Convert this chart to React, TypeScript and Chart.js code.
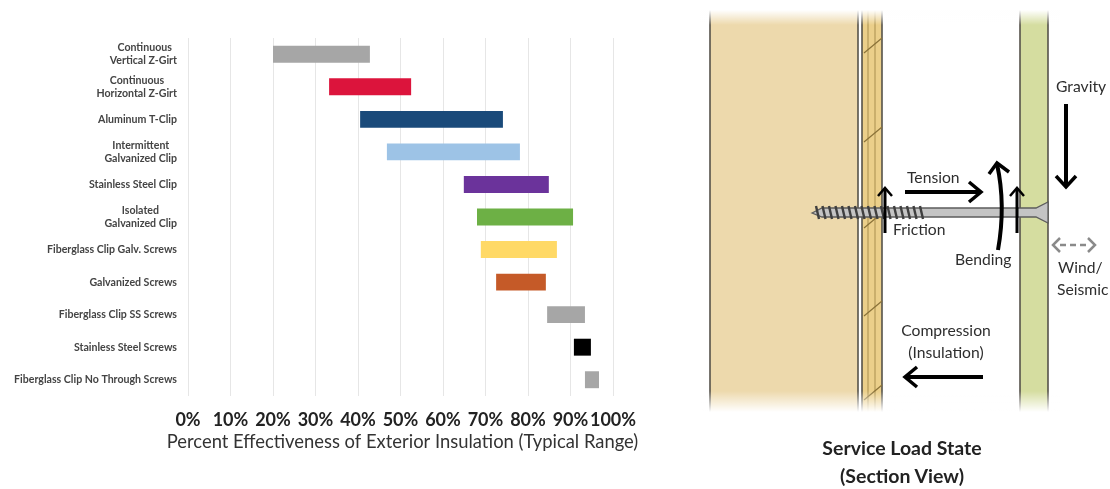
import React, { useEffect, useRef } from "react";
import { Chart, registerables } from "chart.js";

Chart.register(...registerables);

const FONT = "Lato, 'Open Sans', sans-serif";

const categories: string[][] = [
  ["Continuous", "Vertical Z-Girt"],
  ["Continuous", "Horizontal Z-Girt"],
  ["Aluminum T-Clip"],
  ["Intermittent", "Galvanized Clip"],
  ["Stainless Steel Clip"],
  ["Isolated", "Galvanized Clip"],
  ["Fiberglass Clip Galv. Screws"],
  ["Galvanized Screws"],
  ["Fiberglass Clip SS Screws"],
  ["Stainless Steel Screws"],
  ["Fiberglass Clip No Through Screws"],
];
const rangeLow = [20, 33.2, 40.5, 46.8, 64.9, 68, 68.9, 72.5, 84.5, 90.8, 93.4];
const rangeHigh = [42.8, 52.5, 74.1, 78.1, 84.9, 90.6, 86.8, 84.2, 93.4, 94.8, 96.7];
const barColors = [
  "#a6a6a6", "#dc143c", "#1a4a7a", "#9dc3e6", "#6b339b", "#6db045",
  "#ffd966", "#c55a28", "#a6a6a6", "#000000", "#a6a6a6",
];
const axisTitle = "Percent Effectiveness of Exterior Insulation (Typical Range)";

const measure = document.createElement("canvas").getContext("2d")!;

function centeredLines(lines: string[], font: string): string[] {
  if (lines.length < 2) return lines;
  measure.font = font;
  const gap = measure.measureText(lines[1]).width - measure.measureText(lines[0]).width;
  const pad = Math.max(0, Math.round(gap / 2 / measure.measureText("\u00A0").width));
  return [lines[0] + "\u00A0".repeat(pad), lines[1]];
}

const axisTitlePlugin = {
  id: "wideAxisTitle",
  afterDraw(chart: any) {
    const { ctx, scales } = chart;
    const x = scales.x;
    ctx.save();
    ctx.font = `400 18.4px ${FONT}`;
    ctx.fillStyle = "#333";
    ctx.textAlign = "center";
    ctx.textBaseline = "middle";
    ctx.fillText(axisTitle, (x.left + x.right) / 2 + 2, x.top + 46);
    ctx.restore();
  },
};

function Arrow({ d, w = 4, c = "#000" }: { d: string; w?: number; c?: string }) {
  return <path d={d} fill="none" stroke={c} strokeWidth={w} strokeLinejoin="miter" />;
}

function Diagram() {
  const dia = [53, 142, 228, 316, 400];
  const threads: number[] = [];
  for (let x = 816; x < 926; x += 6.5) threads.push(x);
  const t = { fontFamily: FONT, fontSize: 15.7, fill: "#2e2e2e" } as const;
  return (
    <svg
      width={1110}
      height={489}
      style={{ position: "fixed", left: 0, top: 0, filter: "blur(0.5px)", pointerEvents: "none" }}
    >
      <defs>
        <linearGradient id="fadeTop" x1="0" y1="0" x2="0" y2="1">
          <stop offset="0" stopColor="#fff" stopOpacity="1" />
          <stop offset="1" stopColor="#fff" stopOpacity="0" />
        </linearGradient>
        <linearGradient id="fadeBot" x1="0" y1="0" x2="0" y2="1">
          <stop offset="0" stopColor="#fff" stopOpacity="0" />
          <stop offset="1" stopColor="#fff" stopOpacity="1" />
        </linearGradient>
      </defs>
      <rect x={710} y={0} width={148} height={415} fill="#edd9ac" />
      <rect x={862} y={0} width={20} height={415} fill="#ebcf8a" />
      <rect x={1020} y={0} width={28} height={415} fill="#d5dda0" />
      {[710, 858, 862, 868, 875, 882, 1020, 1048].map((x, i) => (
        <line
          key={x}
          x1={x}
          x2={x}
          y1={0}
          y2={415}
          stroke={i === 3 || i === 4 ? "#a98f4e" : "#55524a"}
          strokeWidth={i === 3 || i === 4 ? 1 : 1.6}
        />
      ))}
      {dia.map((y) => (
        <line key={y} x1={864} y1={y} x2={882} y2={y - 15} stroke="#8a7238" strokeWidth={1.2} />
      ))}
      <rect x={700} y={0} width={360} height={10} fill="#fff" />
      <rect x={700} y={10} width={360} height={15} fill="url(#fadeTop)" />
      <rect x={700} y={391} width={360} height={21} fill="url(#fadeBot)" />
      <rect x={700} y={412} width={360} height={6} fill="#fff" />

      <path
        d="M812 213 L822 208 L1036 208 L1048 202 L1048 223 L1036 217 L822 217 Z"
        fill="#c4c4c4"
        stroke="#5c5c5c"
        strokeWidth={1.3}
      />
      {threads.map((x) => (
        <line key={x} x1={x} y1={206} x2={x + 3} y2={219} stroke="#3f3f3f" strokeWidth={2.4} />
      ))}

      <Arrow d="M885 233 L885 190" w={3} />
      <Arrow d="M878 196 L885 188 L892 196" w={2.5} />
      <Arrow d="M1017 233 L1017 190" w={3} />
      <Arrow d="M1010 196 L1017 188 L1024 196" w={2.5} />
      <Arrow d="M1066 104 L1066 186" />
      <Arrow d="M1056 176 L1066 187 L1076 176" w={3.5} />
      <Arrow d="M905 192 L979 192" />
      <Arrow d="M969 182 L981 192 L969 202" w={3.5} />
      <Arrow d="M998 250 Q1006 205 997 164" />
      <Arrow d="M989 174 L997 163 L1009 172" w={3.5} />
      <Arrow d="M983 377 L907 377" />
      <Arrow d="M917 367 L905 377 L917 387" w={3.5} />
      <path d="M1060 245 L1090 245" stroke="#8a8a8a" strokeWidth={2.5} strokeDasharray="6 4" fill="none" />
      <Arrow d="M1060 238 L1053 245 L1060 252" w={2.5} c="#8a8a8a" />
      <Arrow d="M1088 238 L1095 245 L1088 252" w={2.5} c="#8a8a8a" />

      <text {...t} x={1056} y={92}>Gravity</text>
      <text {...t} x={907} y={183}>Tension</text>
      <text {...t} x={893} y={235}>Friction</text>
      <text {...t} x={955} y={265}>Bending</text>
      <text {...t} x={1058} y={273}>Wind/</text>
      <text {...t} x={1057} y={295}>Seismic</text>
      <text {...t} x={946} y={336} textAnchor="middle">Compression</text>
      <text {...t} x={946} y={358} textAnchor="middle">(Insulation)</text>
      <text x={902} y={455} textAnchor="middle" fontFamily={FONT} fontSize={19.5} fontWeight={700} fill="#222">
        Service Load State
      </text>
      <text x={902} y={483} textAnchor="middle" fontFamily={FONT} fontSize={19.5} fontWeight={700} fill="#222">
        (Section View)
      </text>
    </svg>
  );
}

export default function App() {
  const ref = useRef<HTMLCanvasElement | null>(null);

  useEffect(() => {
    const yFont = `700 10.6px ${FONT}`;
    const chart = new Chart(ref.current!, {
      type: "bar",
      plugins: [axisTitlePlugin],
      data: {
        labels: categories.map((c) => c.join(" ")),
        datasets: [
          {
            data: rangeLow.map((lo, i) => [lo, rangeHigh[i]]),
            backgroundColor: barColors,
            barPercentage: 1,
            categoryPercentage: 0.52,
          },
        ],
      },
      options: {
        indexAxis: "y",
        animation: false,
        responsive: false,
        layout: { padding: { top: 38, right: 67, bottom: 33, left: 0 } },
        plugins: { legend: { display: false }, tooltip: { enabled: false } },
        scales: {
          x: {
            min: 0,
            max: 100,
            afterFit: (s: any) => {
              s.height = 60;
            },
            grid: { color: "#e6e6e6", drawTicks: false, lineWidth: 1 },
            border: { display: false },
            ticks: {
              stepSize: 10,
              autoSkip: false,
              maxRotation: 0,
              padding: 13,
              color: "#222",
              font: { family: FONT, size: 18, weight: "bold" },
              callback: (v: any) => `${v}%`,
            },
          },
          y: {
            afterFit: (s: any) => {
              s.width = 188;
            },
            grid: { display: false },
            border: { display: false },
            ticks: {
              autoSkip: false,
              padding: 3,
              color: "#444",
              font: { family: FONT, size: 10.6, weight: "bold", lineHeight: 1.25 },
              callback: (_v: any, i: number) => centeredLines(categories[i], yFont),
            },
          },
        },
      },
    } as any);
    return () => chart.destroy();
  }, []);

  return (
    <>
      <canvas
        ref={ref}
        width={680}
        height={489}
        style={{ position: "fixed", left: 0, top: 0, width: 680, height: 489, filter: "blur(0.4px)" }}
      />
      <Diagram />
    </>
  );
}
